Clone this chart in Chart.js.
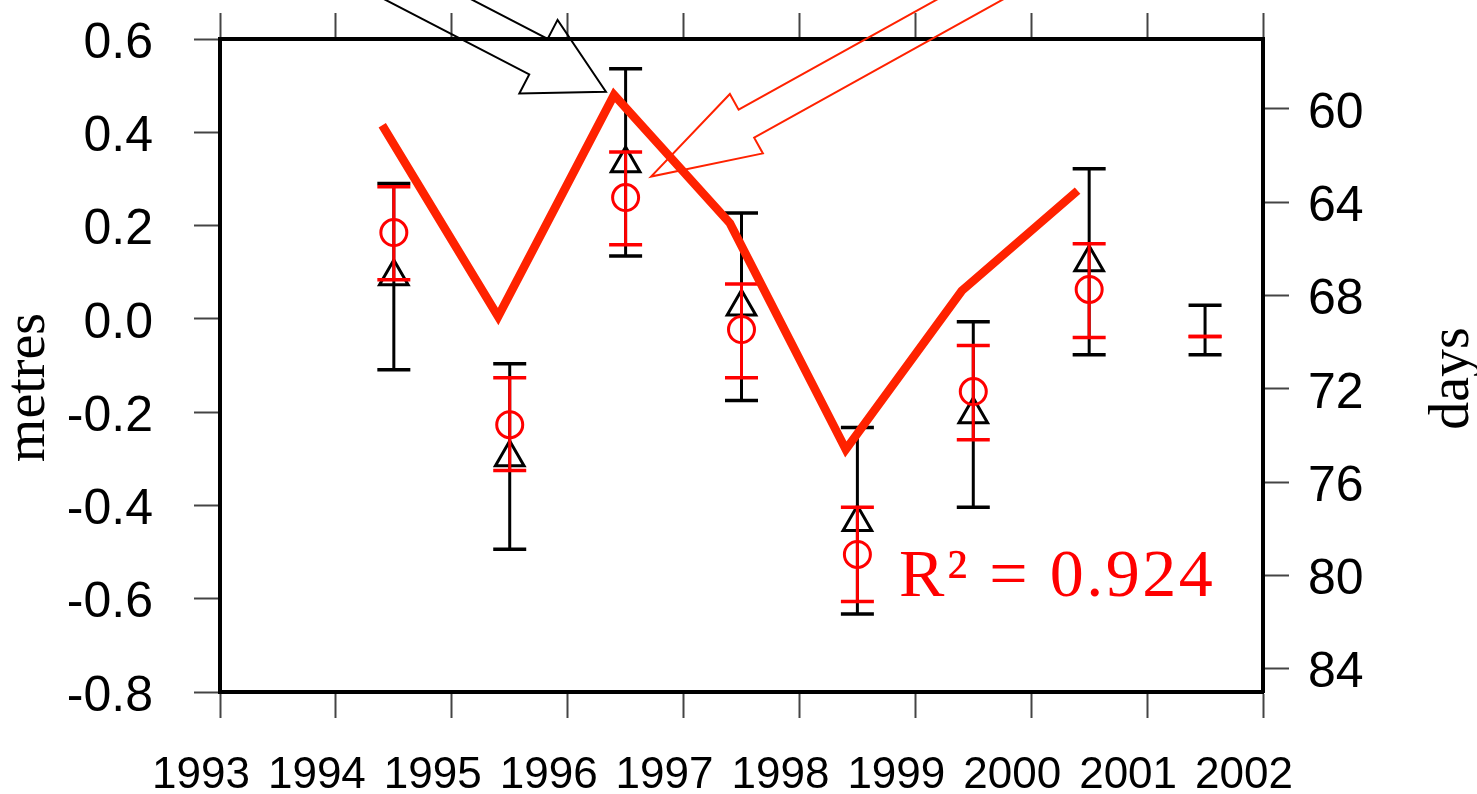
<!DOCTYPE html>
<html>
<head>
<meta charset="utf-8">
<title>metres / days 1993-2002</title>
<script src="https://cdn.jsdelivr.net/npm/chart.js@4.4.1/dist/chart.umd.min.js"></script>
<style>
  html, body { margin: 0; padding: 0; background: #fff; }
  #wrap { width: 1477px; height: 794px; position: relative; }
</style>
</head>
<body>
<div id="wrap"><canvas id="chart"></canvas></div>
<script>
// tick labels
const xTicks = [1993, 1994, 1995, 1996, 1997, 1998, 1999, 2000, 2001, 2002];
const metreTicks = [-0.8, -0.6, -0.4, -0.2, 0.0, 0.2, 0.4, 0.6];
const dayTicks = [60, 64, 68, 72, 76, 80, 84];

// observations sit in the middle of each year
const obsYears = [1994.5, 1995.5, 1996.5, 1997.5, 1998.5, 1999.5, 2000.5, 2001.5];

// black triangles with error bars (metres)
const triVal = [0.091, -0.297, 0.333, 0.026, -0.436, -0.205, 0.121, null];
const triLo  = [-0.109, -0.494, 0.135, -0.175, -0.633, -0.404, -0.077, -0.077];
const triHi  = [0.290, -0.096, 0.536, 0.227, -0.233, -0.006, 0.322, 0.029];

// red circles with error bars (metres)
const circVal = [0.185, -0.227, 0.260, -0.023, -0.505, -0.156, 0.063, null];
const circLo  = [0.084, -0.325, 0.159, -0.126, -0.606, -0.259, -0.040, -0.038];
const circHi  = [0.283, -0.126, 0.358, 0.075, -0.404, -0.057, 0.161, -0.038];

// thick red line (days, right axis, reversed)
const lineYears = [1994.4, 1995.4, 1996.4, 1997.4, 1998.4, 1999.4, 2000.4];
const lineDays  = [60.7, 68.9, 59.4, 64.9, 74.6, 67.8, 63.5];

const fitText = 'R\u00B2 = 0.924';

// annotation placement, in axis units (x: year, y: metres)
const fitPos = [1998.86, -0.595];
const arrows = [
    { tail: [1994.29, 0.75], tip: [1996.33, 0.487], color: '#000000', shaft: 40, headW: 83, headL: 76 },
    { tail: [1999.93, 0.748], tip: [1996.72, 0.305], color: '#ff2200', shaft: 32, headW: 68, headL: 109 }
];

const RED = '#ff0000';
const LINE_RED = '#ff2200';
const SANS = '"Liberation Sans", Arial, sans-serif';
const SERIF = '"Liberation Serif", "Times New Roman", serif';

function markers(vals) {
    return obsYears.map((x, i) => ({ x: x, y: vals[i] })).filter(p => p.y !== null);
}
function stems(lo, hi) {
    const pts = [];
    obsYears.forEach((x, i) => {
        pts.push({ x: x, y: lo[i] }, { x: x, y: hi[i] }, { x: x, y: null });
    });
    return pts;
}
function caps(lo, hi) {
    return obsYears.flatMap((x, i) => [{ x: x, y: lo[i] }, { x: x, y: hi[i] }]);
}

function stemSet(lo, hi, color, order) {
    return { data: stems(lo, hi), borderColor: color, borderWidth: 3, pointRadius: 0, spanGaps: false, order: order };
}
function capSet(lo, hi, color, order) {
    return { data: caps(lo, hi), showLine: false, pointStyle: 'line', pointRadius: 16.5,
             pointBorderColor: color, pointBorderWidth: 3.5, order: order };
}

// arrows, fit text and rotated axis titles
const overlay = {
    id: 'overlay',
    afterDatasetsDraw(chart) {
        const ctx = chart.ctx;
        const xs = chart.scales.x, ys = chart.scales.y;
        ctx.save();

        arrows.forEach(a => {
            const tx = xs.getPixelForValue(a.tail[0]), ty = ys.getPixelForValue(a.tail[1]);
            const px = xs.getPixelForValue(a.tip[0]), py = ys.getPixelForValue(a.tip[1]);
            const len = Math.hypot(px - tx, py - ty);
            const ux = (px - tx) / len, uy = (py - ty) / len;
            const nx = -uy, ny = ux;
            const kx = px - ux * a.headL, ky = py - uy * a.headL;
            const s = a.shaft / 2, h = a.headW / 2;
            ctx.beginPath();
            ctx.moveTo(tx + nx * s, ty + ny * s);
            ctx.lineTo(kx + nx * s, ky + ny * s);
            ctx.lineTo(kx + nx * h, ky + ny * h);
            ctx.lineTo(px, py);
            ctx.lineTo(kx - nx * h, ky - ny * h);
            ctx.lineTo(kx - nx * s, ky - ny * s);
            ctx.lineTo(tx - nx * s, ty - ny * s);
            ctx.strokeStyle = a.color;
            ctx.lineWidth = 2;
            ctx.lineJoin = 'miter';
            ctx.stroke();
        });

        ctx.save();
        ctx.fillStyle = RED;
        ctx.font = '68px ' + SERIF;
        ctx.letterSpacing = '2.5px';
        ctx.textAlign = 'left';
        ctx.textBaseline = 'alphabetic';
        ctx.fillText(fitText, xs.getPixelForValue(fitPos[0]), ys.getPixelForValue(fitPos[1]));
        ctx.restore();

        ctx.fillStyle = '#000';
        ctx.font = '56px ' + SERIF;
        ctx.textAlign = 'center';
        const area = chart.chartArea;
        const midY = (area.top + area.bottom) / 2;
        ctx.save();
        ctx.translate(ys.left + 44, midY + 22);
        ctx.rotate(-Math.PI / 2);
        ctx.fillText('metres', 0, 0);
        ctx.restore();
        const y2 = chart.scales.y2;
        ctx.save();
        ctx.translate(y2.left + 205, midY + 13);
        ctx.rotate(-Math.PI / 2);
        ctx.fillText('days', 0, 0);
        ctx.restore();

        ctx.restore();
    }
};

function fixTicks(values) {
    return function (scale) { scale.ticks = values.map(v => ({ value: v })); };
}
// pin each axis box to the reference frame and drop the label overhang padding
function fitBox(size) {
    return function (scale) {
        if (scale.isHorizontal()) scale.height = size; else scale.width = size;
        scale.paddingTop = 0;
        scale.paddingBottom = 0;
        scale.paddingLeft = 0;
        scale.paddingRight = 0;
    };
}

const tickGrid = { drawOnChartArea: false, drawTicks: true, tickLength: 26, tickColor: '#444', tickWidth: 2 };
const frame = { display: true, color: '#000', width: 4 };

new Chart(document.getElementById('chart'), {
    type: 'line',
    data: {
        datasets: [
            { yAxisID: 'y2', data: lineYears.map((x, i) => ({ x: x, y: lineDays[i] })),
              borderColor: LINE_RED, borderWidth: 8.5, pointRadius: 0, borderJoinStyle: 'miter', order: 0 },
            { data: markers(circVal), showLine: false, pointStyle: 'circle', pointRadius: 13,
              pointBorderColor: RED, pointBackgroundColor: 'rgba(0,0,0,0)', pointBorderWidth: 3, order: 1 },
            capSet(circLo, circHi, RED, 2),
            stemSet(circLo, circHi, RED, 3),
            { data: markers(triVal), showLine: false, pointStyle: 'triangle', pointRadius: 16.5,
              pointBorderColor: '#000', pointBackgroundColor: 'rgba(0,0,0,0)', pointBorderWidth: 3, order: 4 },
            capSet(triLo, triHi, '#000', 5),
            stemSet(triLo, triHi, '#000', 6)
        ]
    },
    options: {
        responsive: true,
        maintainAspectRatio: false,
        animation: false,
        events: [],
        layout: { padding: 0 },
        plugins: { legend: { display: false }, tooltip: { enabled: false } },
        scales: {
            x: {
                type: 'linear', position: 'bottom', min: 1993, max: 2002,
                afterBuildTicks: fixTicks(xTicks),
                afterFit: fitBox(102),
                grid: tickGrid, border: frame,
                ticks: { color: '#000', font: { family: SANS, size: 44 }, padding: 31, labelOffset: -19,
                         maxRotation: 0, autoSkip: false, callback: v => String(v) }
            },
            x2: {
                type: 'linear', position: 'top', min: 1993, max: 2002,
                afterBuildTicks: fixTicks(xTicks),
                afterFit: fitBox(39),
                grid: tickGrid, border: frame,
                ticks: { autoSkip: false, callback: () => '' }
            },
            y: {
                type: 'linear', position: 'left', min: -0.8, max: 0.6,
                afterBuildTicks: fixTicks(metreTicks),
                afterFit: fitBox(220),
                grid: tickGrid, border: frame,
                ticks: { color: '#000', font: { family: SANS, size: 50 }, padding: 41, labelOffset: 5,
                         autoSkip: false, callback: v => Number(v).toFixed(1) }
            },
            y2: {
                type: 'linear', position: 'right', min: 57, max: 85, reverse: true,
                afterBuildTicks: fixTicks(dayTicks),
                afterFit: fitBox(214),
                grid: tickGrid, border: frame,
                ticks: { color: '#000', font: { family: SANS, size: 50 }, padding: 19, labelOffset: 5,
                         autoSkip: false, callback: v => String(v) }
            }
        }
    },
    plugins: [overlay]
});
</script>
</body>
</html>
